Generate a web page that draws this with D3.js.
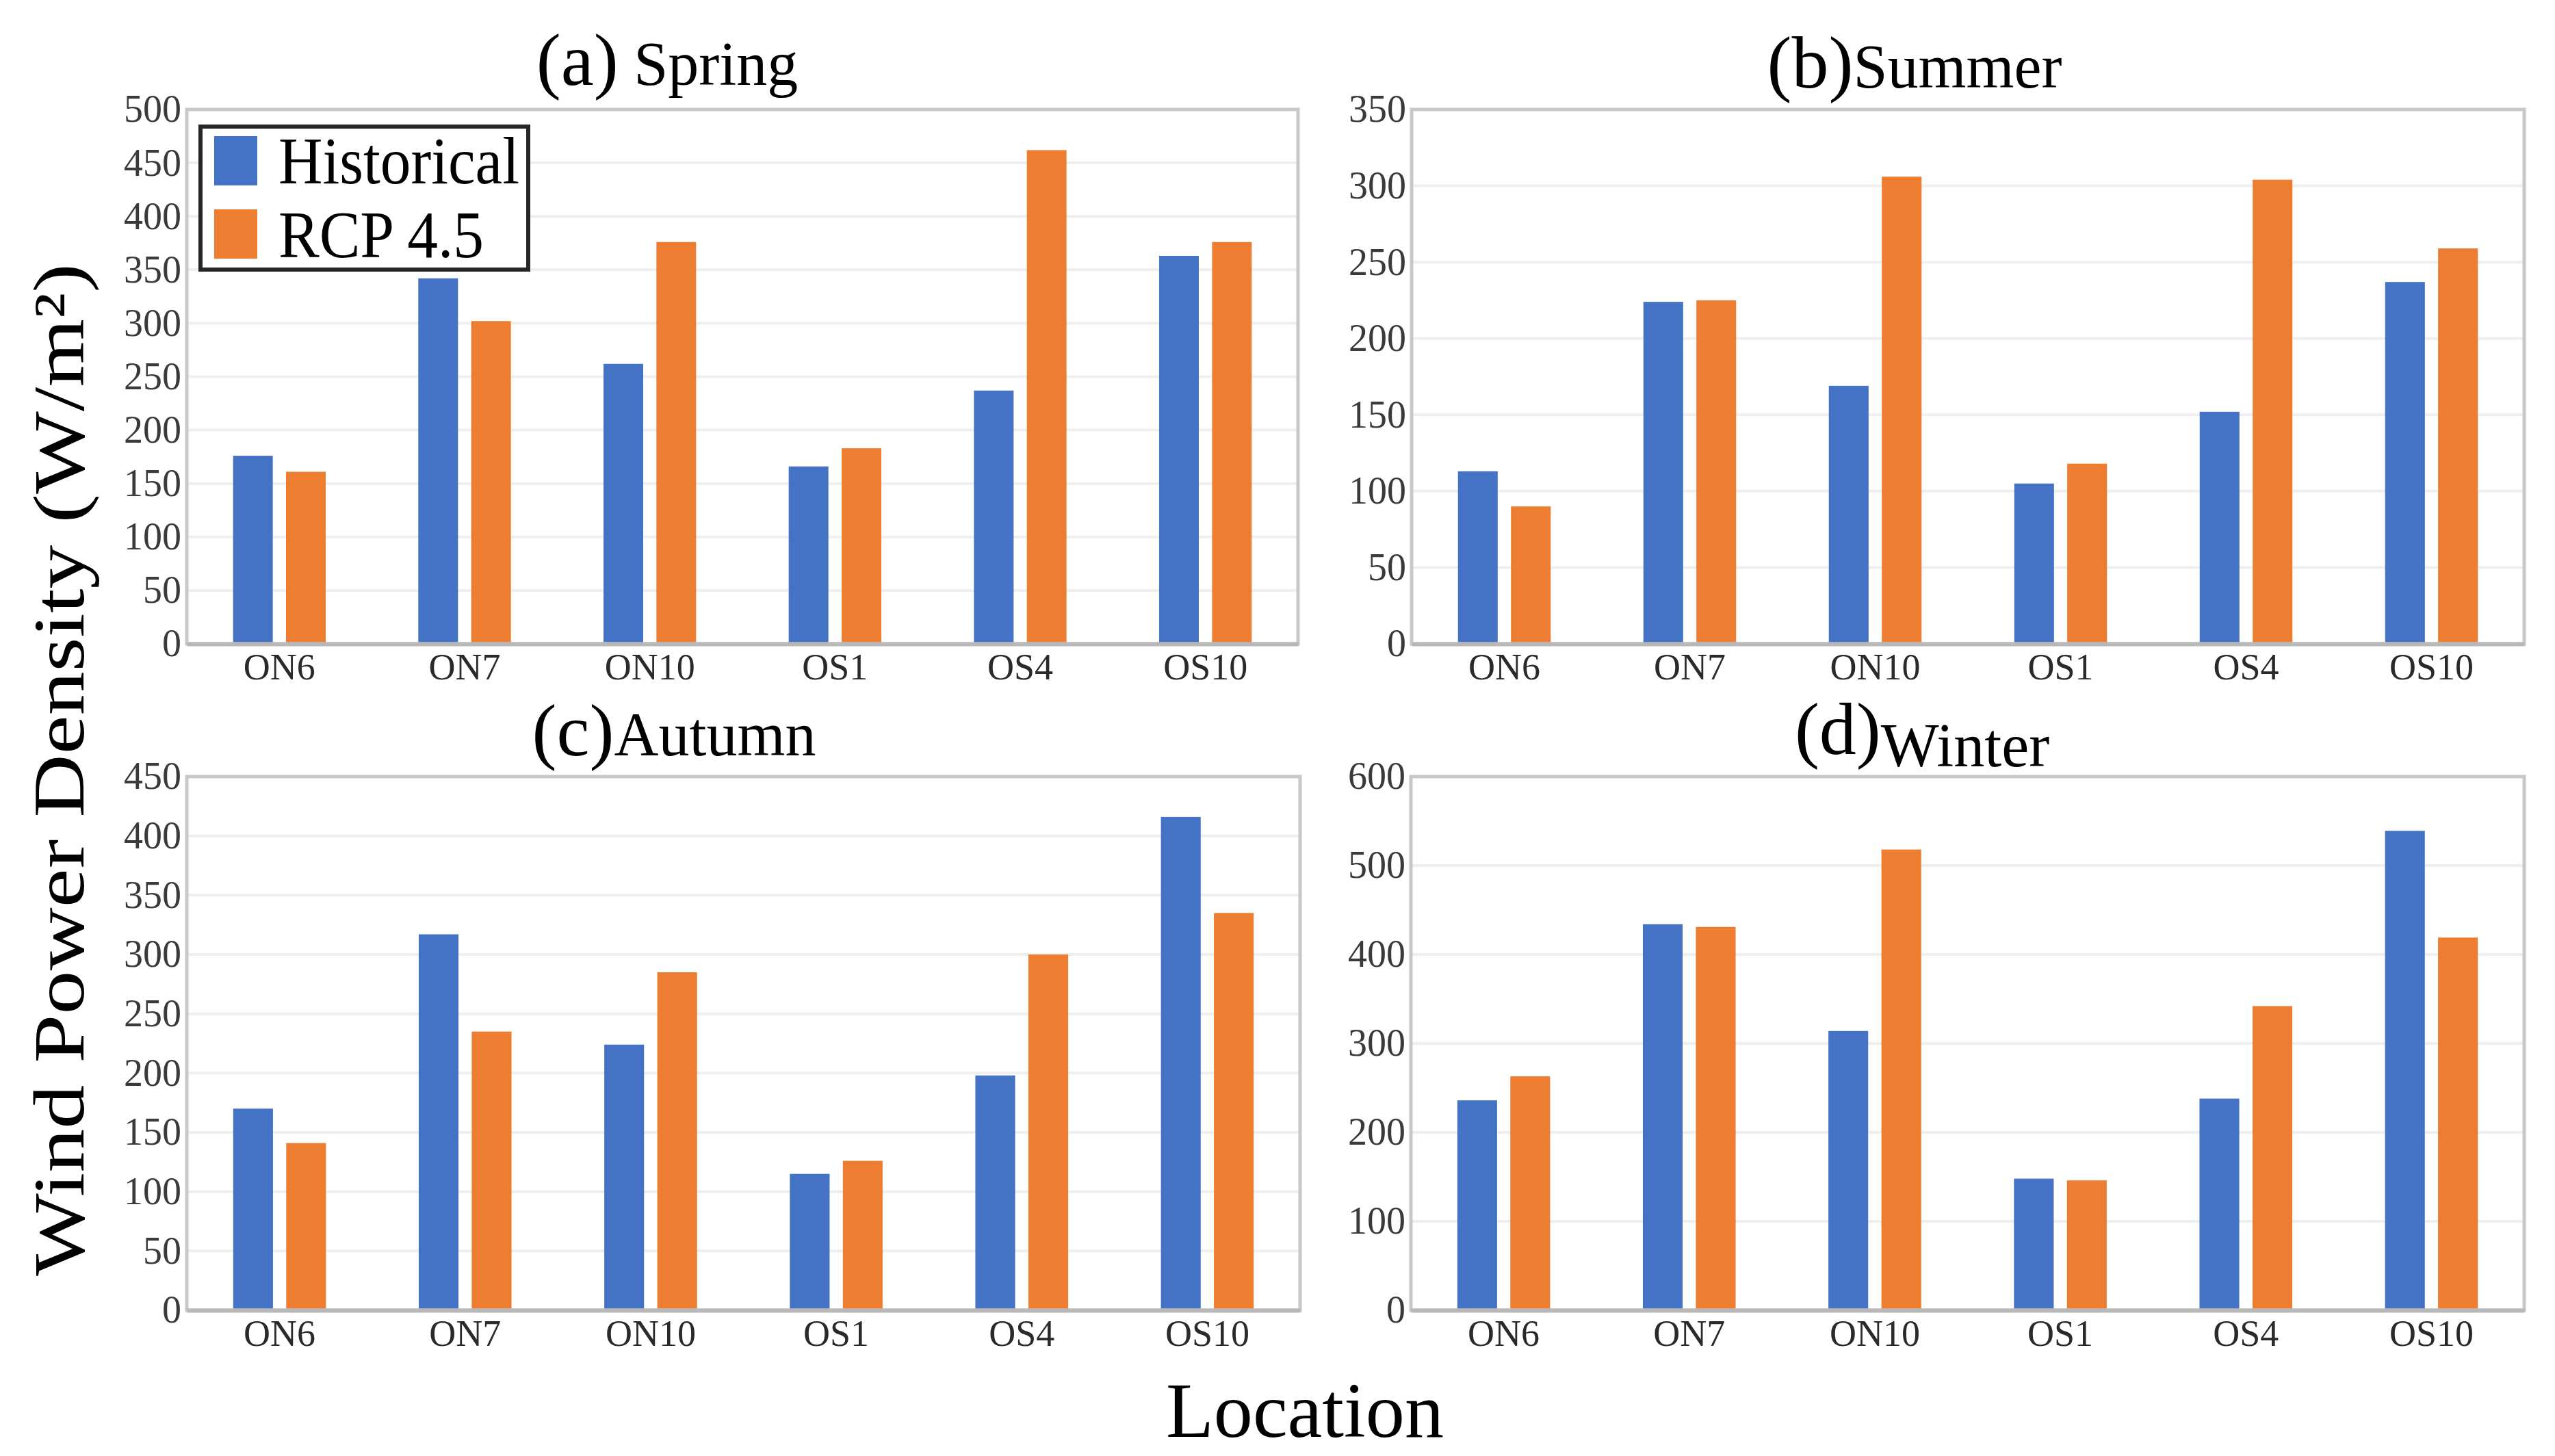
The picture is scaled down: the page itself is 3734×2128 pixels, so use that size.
<!DOCTYPE html>
<html>
<head>
<meta charset="utf-8">
<script src="https://cdn.jsdelivr.net/npm/d3@7"></script>
<style>
  body { margin: 0; background: #fff; }
  svg { display: block; }
  text { font-family: "Liberation Serif", "DejaVu Serif", serif; }
</style>
</head>
<body>
<script>
// categories and series
const locations = ["ON6", "ON7", "ON10", "OS1", "OS4", "OS10"];
const seriesNames = ["Historical", "RCP 4.5"];
const seasons = ["Spring", "Summer", "Autumn", "Winter"];
const panelLetters = ["(a)", "(b)", "(c)", "(d)"];

// values (W/m2)
const springHistorical = [176, 342, 262, 166, 237, 363];
const springRcp45 = [161, 302, 376, 183, 462, 376];
const summerHistorical = [113, 224, 169, 105, 152, 237];
const summerRcp45 = [90, 225, 306, 118, 304, 259];
const autumnHistorical = [170, 317, 224, 115, 198, 416];
const autumnRcp45 = [141, 235, 285, 126, 300, 335];
const winterHistorical = [236, 434, 314, 148, 238, 539];
const winterRcp45 = [263, 431, 518, 146, 342, 419];

// y axis ranges
const yMaxes = [500, 350, 450, 600];
const ySteps = [50, 50, 50, 100];

const colors = ["#4472C4", "#ED7D31"];

const width = 3734;
const height = 2128;

const panels = [
	{ x: 273, y: 160, w: 1624, h: 781, hist: springHistorical, rcp: springRcp45, title: [975, 124] },
	{ x: 2063, y: 160, w: 1626, h: 781, hist: summerHistorical, rcp: summerRcp45, title: [2798, 128] },
	{ x: 273, y: 1135, w: 1627, h: 780, hist: autumnHistorical, rcp: autumnRcp45, title: [985, 1104] },
	{ x: 2062, y: 1135, w: 1627, h: 780, hist: winterHistorical, rcp: winterRcp45, title: [2809, 1102] }
];

const svg = d3.select("body")
	.append("svg")
	.attr("width", width)
	.attr("height", height);

panels.forEach((p, i) => {
	const g = svg.append("g").attr("transform", `translate(${p.x},${p.y})`);

	const x0 = d3.scaleBand().domain(locations).range([0, p.w]).paddingInner(0.5).paddingOuter(0.25);
	const x1 = d3.scaleBand().domain(seriesNames).range([0, x0.bandwidth()]).paddingInner(0.25);
	const y = d3.scaleLinear().domain([0, yMaxes[i]]).range([p.h, 0]);
	const ticks = d3.range(0, yMaxes[i] + 1, ySteps[i]);

	// grid
	g.append("g")
		.selectAll("line")
		.data(ticks.slice(1, -1))
		.join("line")
		.attr("x1", 0)
		.attr("x2", p.w)
		.attr("y1", d => y(d))
		.attr("y2", d => y(d))
		.attr("stroke", "#efefef")
		.attr("stroke-width", 4);

	// bars
	const rows = locations.map((loc, j) => ({ loc, values: [p.hist[j], p.rcp[j]] }));
	g.append("g")
		.selectAll("g")
		.data(rows)
		.join("g")
		.attr("transform", d => `translate(${x0(d.loc)},0)`)
		.selectAll("rect")
		.data(d => d.values.map((v, k) => ({ name: seriesNames[k], value: v, k })))
		.join("rect")
		.attr("x", d => x1(d.name))
		.attr("width", x1.bandwidth())
		.attr("y", d => y(d.value))
		.attr("height", d => p.h - y(d.value))
		.attr("fill", d => colors[d.k]);

	// frame
	g.append("rect")
		.attr("width", p.w)
		.attr("height", p.h)
		.attr("fill", "none")
		.attr("stroke", "#c8c8c8")
		.attr("stroke-width", 5);

	// y axis
	const axisY = d3.axisLeft(y).tickValues(ticks).tickSize(0).tickPadding(8);
	g.append("g")
		.call(axisY)
		.call(a => a.select(".domain").remove())
		.selectAll("text")
		.attr("font-family", "Liberation Serif")
		.attr("font-size", 56)
		.attr("fill", "#3a3a3a");

	// x axis
	const axisX = d3.axisBottom(x0).tickSize(0).tickPadding(14);
	g.append("g")
		.attr("transform", `translate(0,${p.h})`)
		.call(axisX)
		.call(a => a.select(".domain").attr("stroke", "#b8b8b8").attr("stroke-width", 6))
		.selectAll("text")
		.attr("font-family", "Liberation Serif")
		.attr("font-size", 54)
		.attr("fill", "#2a2a2a");

	// title
	const t = svg.append("text")
		.attr("x", p.title[0])
		.attr("y", p.title[1])
		.attr("text-anchor", "middle")
		.attr("fill", "#000");
	t.append("tspan").attr("font-size", 108).text(panelLetters[i]);
	t.append("tspan")
		.attr("font-size", 90)
		.attr("dy", i === 3 ? 18 : 0)
		.text((i === 0 ? " " : "") + seasons[i]);
});

// legend in panel (a)
const legend = svg.append("g").attr("transform", "translate(293,185)");
legend.append("rect")
	.attr("width", 479)
	.attr("height", 209)
	.attr("fill", "#fff")
	.attr("stroke", "#262626")
	.attr("stroke-width", 6);
seriesNames.forEach((name, k) => {
	legend.append("rect")
		.attr("x", 20)
		.attr("y", 14 + k * 107)
		.attr("width", 63)
		.attr("height", 72)
		.attr("fill", colors[k]);
	legend.append("text")
		.attr("x", 114)
		.attr("y", 83 + k * 108)
		.attr("font-size", 98)
		.attr("textLength", k === 0 ? 352 : 300)
		.attr("lengthAdjust", "spacingAndGlyphs")
		.attr("fill", "#000")
		.text(name);
});

// shared axis titles
svg.append("text")
	.attr("transform", "translate(122,1125) rotate(-90)")
	.attr("text-anchor", "middle")
	.attr("font-size", 106)
	.attr("textLength", 1480)
	.attr("lengthAdjust", "spacingAndGlyphs")
	.attr("fill", "#000")
	.text("Wind Power Density (W/m²)");

svg.append("text")
	.attr("x", 1907)
	.attr("y", 2100)
	.attr("text-anchor", "middle")
	.attr("font-size", 114)
	.attr("textLength", 406)
	.attr("lengthAdjust", "spacingAndGlyphs")
	.attr("fill", "#000")
	.text("Location");
</script>
</body>
</html>
